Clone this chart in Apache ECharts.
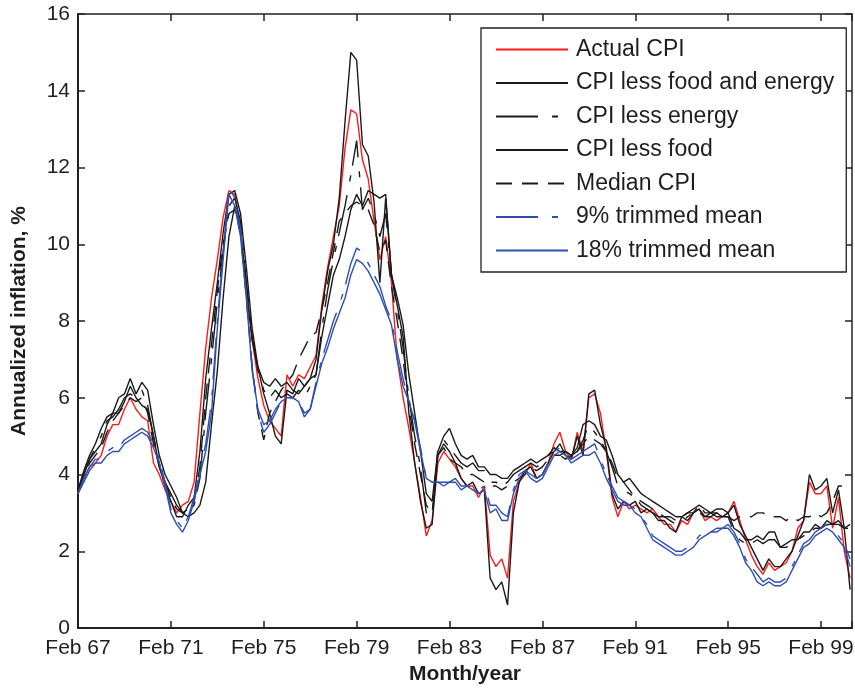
<!DOCTYPE html>
<html>
<head>
<meta charset="utf-8">
<script src="https://cdn.jsdelivr.net/npm/echarts@6/dist/echarts.min.js"></script>
<style>
html, body { margin: 0; padding: 0; background: #fff; }
#chart { width: 855px; height: 689px; }
</style>
</head>
<body>
<div id="chart"></div>
<script>
// quarterly readings, Feb 67 onwards (4 per row = one year)
var tickLabels = ['Feb 67', 'Feb 71', 'Feb 75', 'Feb 79', 'Feb 83', 'Feb 87', 'Feb 91', 'Feb 95', 'Feb 99'];

var actualCPI = [
    3.5, 3.9, 4.2, 4.3,  4.5, 5.0, 5.3, 5.3,  5.7, 6.0, 5.7, 5.5,  5.4, 4.3, 4.0, 3.6,
    3.3, 3.0, 3.2, 3.3,  3.8, 5.6, 7.3, 8.6,  9.6, 10.7, 11.4, 11.3,  10.4, 9.0, 7.5, 6.5,
    5.8, 5.4, 5.2, 5.0,  6.6, 6.3, 6.6, 6.5,  6.8, 7.1, 8.4, 9.4,  10.2, 11.0, 12.5, 13.5,
    13.4, 12.2, 11.7, 10.6,  9.6, 10.2, 9.0, 7.0,  6.0, 5.2, 4.3, 3.4,  2.4, 2.8, 4.3, 4.6,
    4.4, 4.2, 3.9, 3.7,  3.7, 3.4, 3.7, 1.9,  1.6, 1.8, 1.3, 3.3,  3.8, 4.0, 4.3, 3.9,
    4.0, 4.3, 4.8, 5.1,  4.6, 4.4, 5.1, 4.6,  6.0, 6.1, 5.6, 4.6,  3.4, 2.9, 3.3, 3.1,
    3.2, 3.1, 3.0, 3.1,  2.9, 2.7, 2.7, 2.5,  2.8, 2.7, 3.0, 3.1,  2.8, 2.9, 2.8, 2.9,
    3.0, 3.3, 2.8, 2.3,  1.9, 1.6, 1.4, 1.7,  1.5, 1.6, 1.7, 2.0,  2.6, 2.8, 3.8, 3.5,
    3.5, 3.7, 2.6, 3.4,  2.0, 1.3
];
var lessFoodEnergy = [
    3.6, 4.1, 4.5, 4.8,  5.2, 5.5, 5.6, 6.0,  6.1, 6.5, 6.1, 6.4,  6.2, 5.3, 4.5, 4.0,
    3.7, 3.4, 3.0, 2.9,  3.0, 3.2, 3.8, 5.3,  6.7, 8.6, 10.2, 11.0,  10.4, 8.8, 7.5, 6.8,
    6.4, 6.3, 6.5, 6.3,  6.4, 6.2, 6.1, 6.3,  6.5, 6.6, 7.6, 8.4,  9.2, 9.6, 10.2, 10.9,
    11.3, 11.0, 11.4, 11.3,  11.2, 11.3, 9.2, 8.6,  7.9, 6.6, 5.6, 4.6,  3.5, 3.3, 4.6, 5.0,
    5.2, 4.8, 4.5, 4.4,  4.5, 4.2, 4.2, 4.0,  4.0, 3.9, 3.9, 4.1,  4.2, 4.3, 4.4, 4.3,
    4.4, 4.5, 4.7, 4.6,  4.6, 4.5, 4.7, 5.3,  5.4, 5.3, 5.0, 4.9,  4.5, 4.0, 3.8, 3.9,
    3.7, 3.5, 3.4, 3.3,  3.2, 3.1, 3.0, 2.9,  2.9, 3.0, 3.1, 3.2,  3.1, 3.0, 3.1, 3.1,
    3.0, 2.6, 2.5, 2.3,  2.3, 2.4, 2.3, 2.5,  2.5, 2.1, 2.2, 2.3,  2.3, 2.5, 2.5, 2.7,
    2.6, 2.7, 2.7, 2.8,  2.6, 2.7
];
var lessEnergy = [
    3.6, 4.0, 4.4, 4.7,  5.0, 5.4, 5.5, 5.7,  6.0, 6.1, 6.0, 6.2,  5.8, 5.0, 4.3, 3.8,
    3.5, 3.2, 3.0, 3.0,  3.2, 3.9, 5.6, 7.0,  8.5, 9.8, 11.0, 11.2,  10.6, 9.0, 7.6, 6.7,
    6.2, 6.0, 6.2, 6.0,  6.1, 6.0, 6.2, 6.0,  6.3, 6.6, 7.8, 8.8,  9.6, 10.3, 11.0, 11.8,
    12.7, 10.9, 11.2, 10.8,  10.2, 10.8, 9.2, 8.3,  7.3, 6.0, 5.0, 4.2,  3.0, 2.9, 4.7, 4.9,
    4.7, 4.5, 4.3, 4.2,  4.3, 4.1, 4.1, 3.8,  3.8, 3.7, 3.8, 4.0,  4.1, 4.2, 4.3, 4.2,
    4.3, 4.5, 4.6, 4.5,  4.4, 4.5, 4.6, 4.9,  5.3, 5.1, 4.9, 4.6,  4.2, 3.7, 3.6, 3.5,
    3.4, 3.2, 3.1, 3.0,  2.9, 2.9, 2.8, 2.7,  2.8, 2.9, 3.0, 3.0,  2.9, 2.9, 3.0, 2.9,
    2.9, 2.5, 2.3, 2.2,  2.2, 2.3, 2.2, 2.3,  2.3, 2.1, 2.1, 2.2,  2.3, 2.4, 2.5, 2.6,
    2.6, 2.8, 2.7, 2.7,  2.6, 2.6
];
var lessFood = [
    3.6, 4.0, 4.4, 4.6,  4.8, 5.3, 5.6, 5.6,  5.9, 6.3, 6.0, 5.8,  5.7, 5.0, 4.2, 3.7,
    3.3, 2.9, 2.9, 3.2,  3.4, 4.6, 6.5, 7.8,  9.0, 10.3, 11.3, 11.4,  10.8, 9.4, 7.8, 6.8,
    6.1, 5.6, 5.0, 4.8,  6.2, 6.1, 6.5, 6.3,  6.5, 7.0, 8.3, 9.3,  10.0, 11.2, 13.2, 15.0,
    14.8, 12.6, 12.3, 11.1,  9.0, 11.2, 9.2, 8.4,  7.6, 5.6, 4.3, 3.3,  2.6, 2.7, 4.5, 4.8,
    4.6, 4.3, 3.9, 3.7,  3.8, 3.5, 3.6, 1.3,  1.0, 1.2, 0.6, 3.0,  3.8, 4.1, 4.2, 3.9,
    4.0, 4.3, 4.6, 4.8,  4.5, 4.4, 5.0, 4.5,  6.1, 6.2, 5.3, 4.7,  3.5, 3.1, 3.3, 3.2,
    3.3, 3.0, 3.1, 3.0,  2.8, 2.8, 2.6, 2.5,  2.9, 2.8, 3.0, 3.1,  2.9, 3.0, 2.9, 2.9,
    3.0, 3.2, 2.7, 2.4,  2.1, 1.8, 1.5, 1.8,  1.6, 1.6, 1.8, 2.0,  2.4, 2.8, 4.0, 3.6,
    3.7, 3.9, 3.0, 3.6,  2.6, 1.0
];
var medianCPI = [
    3.6, 3.9, 4.3, 4.5,  4.7, 5.1, 5.4, 5.6,  5.8, 6.0, 5.9, 6.0,  5.6, 4.8, 4.2, 3.8,
    3.4, 3.1, 3.0, 3.1,  3.3, 4.2, 6.0, 7.4,  8.8, 10.0, 10.8, 10.9,  10.3, 8.6, 6.8, 5.6,
    4.9, 5.6, 5.9, 6.2,  6.4, 6.6, 7.0, 7.3,  7.6, 7.7, 8.3, 9.0,  9.8, 10.6, 10.8, 11.0,
    11.1, 11.0, 10.9, 10.5,  9.8, 10.1, 8.9, 8.0,  7.0, 5.8, 4.8, 4.0,  3.2, 3.0, 4.5, 4.7,
    4.4, 4.3, 4.2, 4.0,  4.0, 3.9, 3.8, 3.7,  3.7, 3.6, 3.7, 3.8,  3.9, 4.0, 4.2, 4.1,
    4.2, 4.4, 4.5, 4.5,  4.6, 4.5, 4.6, 4.8,  5.0, 4.9, 4.8, 4.6,  4.3, 3.9, 3.8, 3.6,
    3.4, 3.3, 3.2, 3.1,  3.0, 2.9, 2.9, 2.8,  2.9, 3.0, 3.0, 3.2,  3.0, 3.0, 3.0, 2.9,
    2.9, 2.8, 2.9, 2.9,  2.9, 3.0, 3.0, 2.9,  2.9, 2.9, 2.8, 2.9,  2.8, 2.9, 2.9, 3.0,
    2.9, 3.0, 3.3, 3.7,  3.7, 3.7
];
var trimmed9 = [
    3.5, 3.9, 4.2, 4.4,  4.4, 4.6, 4.7, 4.7,  4.9, 5.0, 5.1, 5.2,  5.1, 4.8, 4.4, 3.8,
    3.1, 2.8, 2.6, 2.9,  3.4, 4.1, 4.8, 5.9,  8.0, 9.8, 11.5, 11.2,  10.4, 8.7, 6.8, 5.6,
    5.1, 5.3, 5.6, 5.9,  6.0, 6.0, 5.9, 5.6,  5.7, 6.4, 7.0, 7.5,  8.0, 8.4, 8.9, 9.5,
    9.9, 9.8, 9.5, 9.2,  8.9, 8.4, 8.0, 7.2,  6.5, 5.9, 5.4, 4.7,  3.9, 3.8, 3.8, 3.8,
    3.8, 3.9, 3.7, 3.7,  3.7, 3.6, 3.7, 3.2,  3.2, 3.0, 2.9, 3.6,  4.0, 4.1, 4.0, 3.9,
    4.0, 4.3, 4.6, 4.7,  4.5, 4.4, 4.5, 4.6,  4.7, 4.8, 4.4, 4.0,  3.7, 3.4, 3.3, 3.2,
    3.1, 2.9, 2.7, 2.4,  2.3, 2.2, 2.1, 2.0,  2.0, 2.1, 2.2, 2.4,  2.5, 2.5, 2.6, 2.6,
    2.7, 2.5, 2.2, 1.8,  1.6, 1.4, 1.2, 1.3,  1.2, 1.2, 1.3, 1.6,  1.9, 2.2, 2.3, 2.5,
    2.6, 2.7, 2.6, 2.4,  2.2, 1.8
];
var trimmed18 = [
    3.5, 3.8, 4.1, 4.3,  4.3, 4.5, 4.6, 4.6,  4.8, 4.9, 5.0, 5.1,  5.0, 4.7, 4.3, 3.7,
    3.0, 2.7, 2.5, 2.8,  3.3, 4.0, 4.6, 5.6,  7.8, 9.6, 11.3, 11.0,  10.2, 8.6, 6.7, 5.7,
    5.3, 5.4, 5.7, 5.9,  6.0, 6.0, 5.9, 5.5,  5.7, 6.3, 6.9, 7.3,  7.8, 8.2, 8.6, 9.2,
    9.6, 9.5, 9.3, 9.0,  8.7, 8.3, 7.9, 7.0,  6.3, 5.9, 5.4, 4.6,  3.9, 3.8, 3.8, 3.7,
    3.8, 3.8, 3.6, 3.7,  3.6, 3.5, 3.6, 3.0,  3.1, 2.8, 2.8, 3.5,  3.9, 4.1, 3.9, 3.8,
    3.9, 4.2, 4.5, 4.6,  4.5, 4.3, 4.4, 4.5,  4.5, 4.6, 4.3, 3.9,  3.6, 3.3, 3.2, 3.2,
    3.0, 2.9, 2.6, 2.3,  2.2, 2.1, 2.0, 1.9,  1.9, 2.0, 2.1, 2.3,  2.4, 2.5, 2.5, 2.6,
    2.6, 2.4, 2.1, 1.7,  1.5, 1.2, 1.1, 1.2,  1.1, 1.1, 1.2, 1.5,  1.8, 2.1, 2.2, 2.4,
    2.5, 2.6, 2.5, 2.3,  2.1, 1.6
];

// months since Feb 67, one reading every quarter
var months = [];
for (var i = 0; i < actualCPI.length; i++) months.push(i * 3);

function toPairs(vals) {
    return vals.map(function (v, i) { return [months[i], v]; });
}

var textColor = '#1e1e1e';
var frameColor = '#222';

function makeLine(name, vals, color, dash) {
    return {
        name: name,
        type: 'line',
        data: toPairs(vals),
        symbol: 'none',
        silent: true,
        animation: false,
        lineStyle: { color: color, width: 1.4, type: dash || 'solid' },
        itemStyle: { color: color }
    };
}

var dom = document.getElementById('chart');
var myChart = echarts.init(dom, null, { renderer: 'canvas' });

var option = {
    backgroundColor: '#fff',
    animation: false,
    textStyle: { fontFamily: 'Liberation Sans, Arial, sans-serif' },
    grid: { left: 78, right: 3, top: 14, bottom: 61, containLabel: false, outerBoundsMode: 'none' },
    legend: {
        orient: 'vertical',
        left: 481,
        top: 28,
        padding: [10, 12, 10, 14],
        itemWidth: 72,
        itemHeight: 14,
        itemGap: 10.5,
        backgroundColor: '#fff',
        borderColor: frameColor,
        borderWidth: 1.3,
        borderRadius: 0,
        selectedMode: false,
        itemStyle: { opacity: 0 },
        textStyle: { fontSize: 23, color: textColor, padding: [0, 0, 0, 3] },
        data: ['Actual CPI', 'CPI less food and energy', 'CPI less energy', 'CPI less food',
               'Median CPI', '9% trimmed mean', '18% trimmed mean']
    },
    xAxis: [{
        type: 'value',
        min: 0,
        max: 400,
        interval: 48,
        name: 'Month/year',
        nameLocation: 'middle',
        nameGap: 36,
        nameTextStyle: { fontSize: 21, fontWeight: 'bold', color: textColor },
        axisLine: { show: true, onZero: false, lineStyle: { color: frameColor, width: 2 } },
        axisTick: { show: true, inside: true, length: 7, lineStyle: { color: frameColor, width: 1.5 } },
        axisLabel: {
            fontSize: 21, color: textColor, margin: 10,
            formatter: function (v) { return v % 48 === 0 ? tickLabels[v / 48] : ''; }
        },
        splitLine: { show: false }
    }, {
        type: 'value',
        position: 'top',
        min: 0,
        max: 400,
        interval: 48,
        axisLine: { show: true, onZero: false, lineStyle: { color: frameColor, width: 1.5 } },
        axisTick: { show: true, inside: true, length: 7, lineStyle: { color: frameColor, width: 1.5 } },
        axisLabel: { show: false },
        splitLine: { show: false }
    }],
    yAxis: [{
        type: 'value',
        min: 0,
        max: 16,
        interval: 2,
        name: 'Annualized inflation, %',
        nameLocation: 'middle',
        nameGap: 48,
        nameTextStyle: { fontSize: 21, fontWeight: 'bold', color: textColor },
        axisLine: { show: true, onZero: false, lineStyle: { color: frameColor, width: 2 } },
        axisTick: { show: true, inside: true, length: 7, lineStyle: { color: frameColor, width: 1.5 } },
        axisLabel: { fontSize: 21, color: textColor, margin: 8 },
        splitLine: { show: false }
    }, {
        type: 'value',
        position: 'right',
        min: 0,
        max: 16,
        interval: 2,
        axisLine: { show: true, onZero: false, lineStyle: { color: frameColor, width: 1.5 } },
        axisTick: { show: true, inside: true, length: 7, lineStyle: { color: frameColor, width: 1.5 } },
        axisLabel: { show: false },
        splitLine: { show: false }
    }],
    series: [
        makeLine('Actual CPI', actualCPI, '#ff1a1a'),
        makeLine('CPI less food and energy', lessFoodEnergy, '#1a1a1a'),
        makeLine('CPI less energy', lessEnergy, '#1a1a1a', [42, 14, 6, 10]),
        makeLine('CPI less food', lessFood, '#1a1a1a'),
        makeLine('Median CPI', medianCPI, '#1a1a1a', [16, 10]),
        makeLine('9% trimmed mean', trimmed9, '#2f4fb0', [42, 14, 6, 10]),
        makeLine('18% trimmed mean', trimmed18, '#2f4fb0')
    ]
};

myChart.setOption(option, true);
</script>
</body>
</html>
